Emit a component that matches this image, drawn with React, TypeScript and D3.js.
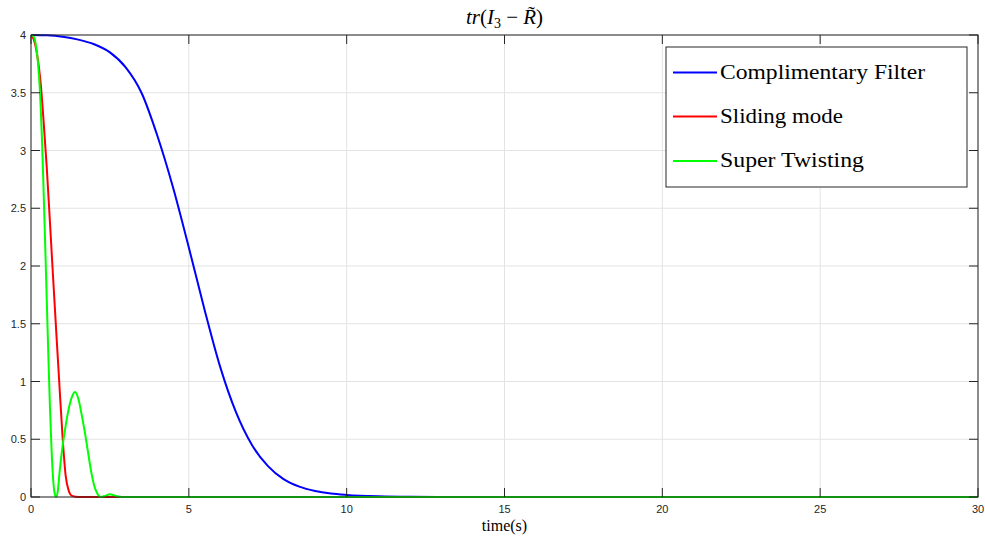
import React from "react";
import * as d3 from "d3";

// ---- data ----
const T_BLUE = [0, 0.5, 1, 1.5, 2, 2.5, 3, 3.5, 4, 4.5, 5, 5.5, 6, 6.5, 7, 7.5, 8, 8.5, 9, 9.5, 10, 11, 12, 14, 18, 30];
const V_BLUE = [4.0, 3.997, 3.985, 3.96, 3.92, 3.85, 3.72, 3.5, 3.13, 2.68, 2.16, 1.62, 1.12, 0.73, 0.45, 0.27, 0.155, 0.09, 0.052, 0.03, 0.018, 0.006, 0.002, 0.0005, 0, 0];

const T_RED = [0, 0.1, 0.2, 0.3, 0.4, 0.5, 0.6, 0.7, 0.8, 0.9, 1.0, 1.1, 1.2, 1.3, 1.5, 3, 30];
const V_RED = [4.0, 3.95, 3.82, 3.6, 3.25, 2.85, 2.38, 1.9, 1.43, 0.97, 0.52, 0.18, 0.05, 0.01, 0, 0, 0];

const T_GREEN = [0, 0.1, 0.15, 0.2, 0.25, 0.3, 0.35, 0.4, 0.45, 0.5, 0.55, 0.6, 0.65, 0.7, 0.75, 0.8, 0.85, 0.9, 1.0, 1.1, 1.2, 1.3, 1.4, 1.5, 1.6, 1.7, 1.8, 1.9, 2.0, 2.1, 2.2, 2.35, 2.5, 2.65, 2.8, 3.0, 30];
const V_GREEN = [4.0, 3.98, 3.92, 3.82, 3.66, 3.42, 3.08, 2.64, 2.18, 1.7, 1.22, 0.78, 0.42, 0.16, 0.03, 0.0, 0.05, 0.2, 0.44, 0.62, 0.77, 0.87, 0.91, 0.85, 0.72, 0.57, 0.4, 0.23, 0.1, 0.03, 0.0, 0.01, 0.024, 0.012, 0.002, 0, 0];

const SERIES_NAMES = ["Complimentary Filter", "Sliding mode", "Super Twisting"];
const SERIES_COLORS = ["#0000ff", "#ff0000", "#00ff00"];
const LEGEND_TEXT_WIDTHS = [205, 123, 144];

const X_TICKS = [0, 5, 10, 15, 20, 25, 30];
const X_TICK_LABELS = ["0", "5", "10", "15", "20", "25", "30"];
const Y_TICKS = [0, 0.5, 1, 1.5, 2, 2.5, 3, 3.5, 4];
const Y_TICK_LABELS = ["0", "0.5", "1", "1.5", "2", "2.5", "3", "3.5", "4"];

const W = 985;
const H = 537;
const L = 31, R = 978, TOP = 35, BOT = 497;

export default function App() {
  const x = d3.scaleLinear().domain([0, 30]).range([L, R]);
  const y = d3.scaleLinear().domain([0, 4]).range([BOT, TOP]);
  const line = d3
    .line<[number, number]>()
    .x((d) => x(d[0]))
    .y((d) => y(d[1]))
    .curve(d3.curveMonotoneX);

  const series = [
    T_BLUE.map((t, i) => [t, V_BLUE[i]] as [number, number]),
    T_RED.map((t, i) => [t, V_RED[i]] as [number, number]),
    T_GREEN.map((t, i) => [t, V_GREEN[i]] as [number, number]),
  ];

  const axisColor = "#262626";
  const gridColor = "#e3e3e3";
  const tickLen = 9;
  const tickFont = "'Liberation Sans', Arial, Helvetica, sans-serif";
  const serif = "'Liberation Serif', 'Times New Roman', serif";

  const legX = 666, legY = 47, legW = 301, legH = 140;
  const legRows = [72.5, 116.5, 161];

  return (
    <svg
      width={W}
      height={H}
      style={{ position: "absolute", left: 0, top: 0, background: "#fff" }}
    >
      <defs>
        <clipPath id="plotclip">
          <rect x={L} y={TOP - 2} width={R - L} height={BOT - TOP + 3} />
        </clipPath>
      </defs>
      <rect x={0} y={0} width={W} height={H} fill="#ffffff" />
      {/* grid */}
      {X_TICKS.map((t) => (
        <line key={"gx" + t} x1={x(t)} x2={x(t)} y1={TOP} y2={BOT} stroke={gridColor} strokeWidth={1} />
      ))}
      {Y_TICKS.map((t) => (
        <line key={"gy" + t} x1={L} x2={R} y1={y(t)} y2={y(t)} stroke={gridColor} strokeWidth={1} />
      ))}

      {/* series */}
      <g clipPath="url(#plotclip)">
        {series.map((s, i) => (
          <path key={i} d={line(s) || ""} fill="none" stroke={SERIES_COLORS[i]} strokeWidth={2} strokeLinejoin="round" />
        ))}
      </g>

      {/* axes box */}
      <rect x={L} y={TOP} width={R - L} height={BOT - TOP} fill="none" stroke={axisColor} strokeWidth={1} />
      {X_TICKS.map((t) => (
        <g key={"tx" + t}>
          <line x1={x(t)} x2={x(t)} y1={BOT} y2={BOT - tickLen} stroke={axisColor} />
          <line x1={x(t)} x2={x(t)} y1={TOP} y2={TOP + tickLen} stroke={axisColor} />
        </g>
      ))}
      {Y_TICKS.map((t) => (
        <g key={"ty" + t}>
          <line x1={L} x2={L + tickLen} y1={y(t)} y2={y(t)} stroke={axisColor} />
          <line x1={R} x2={R - tickLen} y1={y(t)} y2={y(t)} stroke={axisColor} />
        </g>
      ))}

      {/* tick labels */}
      {X_TICKS.map((t, i) => (
        <text key={"lx" + t} x={x(t)} y={513} textAnchor="middle" fontFamily={tickFont} fontSize={11} fill={axisColor}>
          {X_TICK_LABELS[i]}
        </text>
      ))}
      {Y_TICKS.map((t, i) => (
        <text key={"ly" + t} x={26} y={y(t) + 4} textAnchor="end" fontFamily={tickFont} fontSize={11} fill={axisColor}>
          {Y_TICK_LABELS[i]}
        </text>
      ))}

      {/* x label */}
      <text x={(L + R) / 2} y={531} textAnchor="middle" fontFamily={serif} fontSize={16} fill="#000">
        time(s)
      </text>

      {/* title */}
      <text x={(L + R) / 2} y={24} textAnchor="middle" fontFamily={serif} fontSize={21} fill="#000">
        <tspan fontStyle="italic">tr</tspan>
        <tspan>(</tspan>
        <tspan fontStyle="italic">I</tspan>
        <tspan fontSize={14} dy={4}>3</tspan>
        <tspan dy={-4}>{" \u2212 "}</tspan>
        <tspan fontStyle="italic">{"R\u0303"}</tspan>
        <tspan>)</tspan>
      </text>

      {/* legend */}
      <rect x={legX} y={legY} width={legW} height={legH} fill="#ffffff" stroke="#262626" strokeWidth={1} />
      {SERIES_NAMES.map((name, i) => (
        <g key={"leg" + i}>
          <line x1={673} x2={717} y1={legRows[i]} y2={legRows[i]} stroke={SERIES_COLORS[i]} strokeWidth={2} />
          <text
            x={720}
            y={legRows[i] + 6}
            fontFamily={serif}
            fontSize={20}
            fill="#000"
            textLength={LEGEND_TEXT_WIDTHS[i]}
            lengthAdjust="spacingAndGlyphs"
          >
            {name}
          </text>
        </g>
      ))}
    </svg>
  );
}
